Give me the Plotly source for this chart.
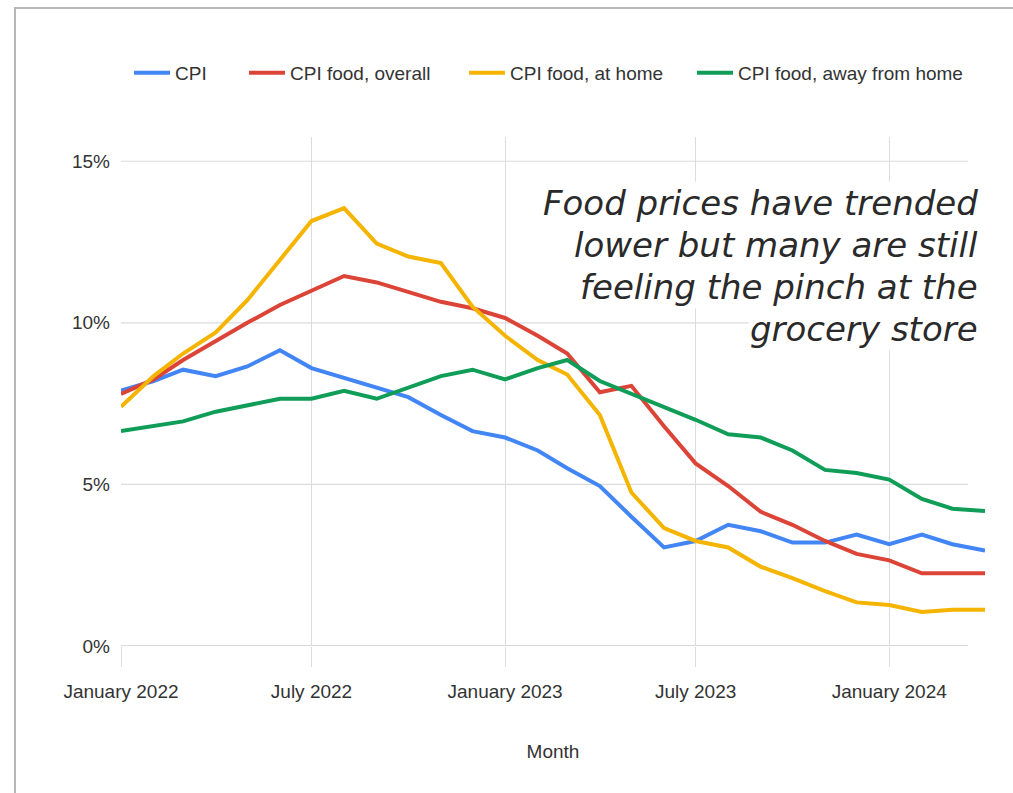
import plotly.graph_objects as go

# Monthly year-over-year change, Jan 2022 - Apr 2024
months = [
    "2022-01-01", "2022-02-01", "2022-03-01", "2022-04-01", "2022-05-01", "2022-06-01",
    "2022-07-01", "2022-08-01", "2022-09-01", "2022-10-01", "2022-11-01", "2022-12-01",
    "2023-01-01", "2023-02-01", "2023-03-01", "2023-04-01", "2023-05-01", "2023-06-01",
    "2023-07-01", "2023-08-01", "2023-09-01", "2023-10-01", "2023-11-01", "2023-12-01",
    "2024-01-01", "2024-02-01", "2024-03-01", "2024-04-01",
]

cpi = [7.9, 8.2, 8.55, 8.35, 8.65, 9.15, 8.6, 8.3, 8.0, 7.7, 7.15, 6.65,
       6.45, 6.05, 5.5, 4.95, 4.0, 3.05, 3.25, 3.75, 3.55, 3.2, 3.2, 3.45,
       3.15, 3.45, 3.15, 2.95]

food_overall = [7.8, 8.25, 8.85, 9.45, 10.0, 10.55, 11.0, 11.45, 11.25, 10.95, 10.65, 10.45,
                10.15, 9.6, 9.05, 7.85, 8.05, 6.8, 5.65, 4.95, 4.15, 3.75, 3.25, 2.85,
                2.65, 2.25, 2.25, 2.25]

food_home = [7.4, 8.35, 9.05, 9.7, 10.7, 11.95, 13.15, 13.55, 12.45, 12.05, 11.85, 10.5,
             9.6, 8.85, 8.4, 7.15, 4.75, 3.65, 3.25, 3.05, 2.45, 2.1, 1.7, 1.35,
             1.27, 1.05, 1.12, 1.12]

food_away = [6.65, 6.8, 6.95, 7.25, 7.45, 7.65, 7.65, 7.9, 7.65, 8.0, 8.35, 8.55,
             8.25, 8.6, 8.85, 8.2, 7.8, 7.4, 7.0, 6.55, 6.45, 6.05, 5.45, 5.35,
             5.15, 4.55, 4.25, 4.18]

series = [
    ("CPI", cpi, "#4285F4"),
    ("CPI food, overall", food_overall, "#DB4437"),
    ("CPI food, at home", food_home, "#F4B400"),
    ("CPI food, away from home", food_away, "#0F9D58"),
]

note_lines = [
    "Food prices have trended",
    "lower but many are still",
    "feeling the pinch at the",
    "grocery store",
]

y_grid = [0, 5, 10, 15]

W, H = 1013, 793
L, R, T, B = 121, 28, 137, 147
pw, ph = W - L - R, H - T - B


def px_x(x):
    return (x - L) / pw


def px_y(y):
    return (H - B - y) / ph


FONT = "Liberation Sans, Arial, sans-serif"
TXT = "#333333"
FS = 19

# one legend box per series so each entry sits at its own position
legend_ids = ["legend", "legend2", "legend3", "legend4"]
legend_left = [129, 244, 464, 692]

fig = go.Figure()
for (name, vals, color), lid in zip(series, legend_ids):
    fig.add_trace(go.Scatter(
        x=months, y=vals, name=name, mode="lines",
        line=dict(color=color, width=4), legend=lid,
    ))

shapes = []
# horizontal gridlines
for g in y_grid:
    shapes.append(dict(
        type="line", xref="paper", yref="y", x0=0, x1=px_x(968), y0=g, y1=g,
        line=dict(color="#cfcfcf" if g == 0 else "#dcdcdc", width=1.5 if g == 0 else 1.2),
        layer="below",
    ))
# outer frame
shapes.append(dict(
    type="rect", xref="paper", yref="paper",
    x0=px_x(15), x1=px_x(1030), y0=px_y(815), y1=px_y(8),
    line=dict(color="#b8b8b8", width=2), fillcolor="rgba(0,0,0,0)", layer="below",
))

annotations = []
note_y = [203, 245, 287, 329]
for text, yy in zip(note_lines, note_y):
    annotations.append(dict(
        text=text, xref="paper", yref="paper", x=px_x(980), y=px_y(yy),
        xanchor="right", yanchor="middle", showarrow=False, align="right",
        bgcolor="white", borderpad=1,
        font=dict(family="DejaVu Sans, sans-serif", size=34, color="#2a2a2a",
                  style="italic", weight=200),
    ))

legend_common = dict(
    orientation="h", yanchor="middle", xanchor="left",
    font=dict(family=FONT, size=FS, color=TXT), itemwidth=36,
    bgcolor="rgba(0,0,0,0)", borderwidth=0,
)
legends = {}
for lid, lx in zip(legend_ids, legend_left):
    legends[lid] = dict(legend_common, x=px_x(lx), y=px_y(73))

fig.update_layout(
    width=W, height=H,
    margin=dict(l=L, r=R, t=T, b=B, autoexpand=False),
    paper_bgcolor="white", plot_bgcolor="white",
    font=dict(family=FONT, size=FS, color=TXT),
    showlegend=True,
    xaxis=dict(
        type="date", range=["2022-01-01", "2024-04-01"],
        tickvals=["2022-01-01", "2022-07-01", "2023-01-01", "2023-07-01", "2024-01-01"],
        tickformat="%B %Y",
        showgrid=True, gridcolor="#dcdcdc", gridwidth=1.2,
        ticks="outside", ticklen=20, tickcolor="#dcdcdc", tickwidth=1.2,
        ticklabelstandoff=8,
        tickfont=dict(family=FONT, size=FS, color=TXT),
        showline=False, zeroline=False,
        title=dict(text="Month", standoff=43, font=dict(family=FONT, size=FS, color=TXT)),
    ),
    yaxis=dict(
        range=[0, 15.75], tickvals=y_grid, ticktext=[f"{v}%" for v in y_grid],
        showgrid=False, zeroline=False, showline=False,
        ticks="", ticklabelstandoff=10,
        tickfont=dict(family=FONT, size=FS, color=TXT),
    ),
    shapes=shapes,
    annotations=annotations,
    **legends,
)

fig.write_html("out.html")
